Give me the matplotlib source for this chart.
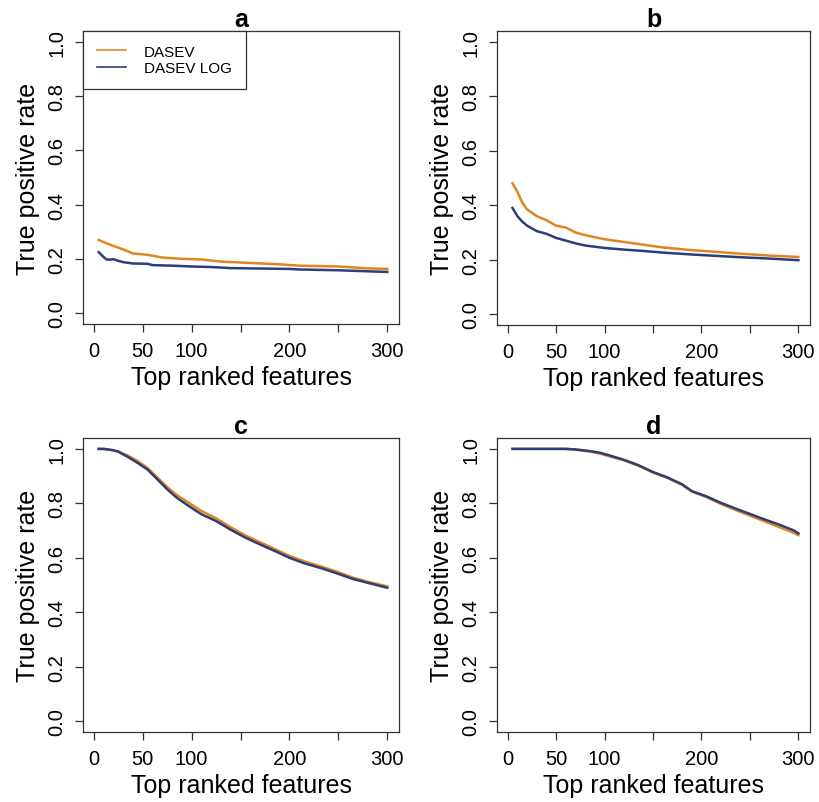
import matplotlib
matplotlib.use("Agg")
import matplotlib.pyplot as plt
import numpy as np

plt.rcParams['font.family'] = ['Liberation Sans', 'DejaVu Sans']

# values, x = number of top ranked features
a_x_dasev = [5, 10, 20, 30, 40, 55, 70, 90, 110, 130, 160, 190, 210, 250, 280, 300]
a_dasev = [0.27, 0.262, 0.248, 0.235, 0.22, 0.215, 0.205, 0.2, 0.198, 0.19, 0.185, 0.18, 0.175, 0.172, 0.165, 0.163]
a_x_log = [5, 10, 13, 17, 20, 25, 30, 40, 55, 60, 80, 100, 120, 140, 200, 210, 250, 290, 300]
a_log = [0.225, 0.207, 0.198, 0.197, 0.199, 0.193, 0.188, 0.183, 0.182, 0.177, 0.175, 0.172, 0.17, 0.166, 0.163, 0.161, 0.158, 0.153, 0.152]

b_x = [5, 10, 15, 20, 30, 40, 50, 60, 70, 80, 100, 120, 140, 160, 190, 210, 240, 270, 300]
b_dasev = [0.48, 0.45, 0.41, 0.385, 0.36, 0.345, 0.325, 0.318, 0.3, 0.29, 0.275, 0.265, 0.255, 0.245, 0.235, 0.23, 0.222, 0.215, 0.21]
b_log = [0.39, 0.36, 0.34, 0.325, 0.305, 0.295, 0.28, 0.27, 0.26, 0.252, 0.243, 0.237, 0.232, 0.226, 0.219, 0.215, 0.209, 0.204, 0.198]

c_x = [5, 10, 20, 25, 35, 45, 55, 65, 75, 85, 98, 110, 125, 140, 155, 170, 185, 200, 215, 235, 250, 265, 280, 300]
c_dasev = [1.0, 1.0, 0.995, 0.99, 0.975, 0.955, 0.93, 0.895, 0.86, 0.83, 0.8, 0.772, 0.745, 0.712, 0.682, 0.657, 0.632, 0.607, 0.587, 0.565, 0.547, 0.527, 0.512, 0.495]
c_log = [1.0, 1.0, 0.995, 0.99, 0.97, 0.948, 0.924, 0.888, 0.852, 0.82, 0.788, 0.76, 0.735, 0.703, 0.674, 0.649, 0.625, 0.6, 0.58, 0.559, 0.541, 0.522, 0.508, 0.49]

d_x = [5, 30, 60, 70, 85, 95, 105, 120, 135, 150, 165, 180, 190, 205, 220, 235, 250, 265, 280, 295, 300]
d_dasev = [1.0, 1.0, 1.0, 0.997, 0.99, 0.983, 0.973, 0.958, 0.938, 0.913, 0.893, 0.868, 0.843, 0.823, 0.798, 0.776, 0.755, 0.734, 0.713, 0.692, 0.683]
d_log = [1.0, 1.0, 1.0, 0.998, 0.992, 0.986, 0.976, 0.96, 0.94, 0.915, 0.895, 0.87, 0.845, 0.826, 0.802, 0.781, 0.761, 0.741, 0.722, 0.701, 0.69]

panels = ["a", "b", "c", "d"]
x_ticks = [0, 50, 100, 150, 200, 250, 300]
x_tick_labels = ["0", "50", "100", "", "200", "", "300"]
y_ticks = [0.0, 0.2, 0.4, 0.6, 0.8, 1.0]
y_tick_labels = ["0.0", "0.2", "0.4", "0.6", "0.8", "1.0"]
series_names = ["DASEV", "DASEV LOG"]

orange = "#E0851F"
blue = "#2C3E7A"
W, H = 819, 803

fig = plt.figure(figsize=(W / 100, H / 100), dpi=100)

# axes boxes in pixels: left, top, right, bottom
boxes = [(83, 32, 399, 325), (497, 32, 810, 326), (83, 439, 399, 733), (497, 439, 810, 733)]
data = [
    (a_x_dasev, a_dasev, a_x_log, a_log),
    (b_x, b_dasev, b_x, b_log),
    (c_x, c_dasev, c_x, c_log),
    (d_x, d_dasev, d_x, d_log),
]

for name, (l, t, r, b), (x1, y1, x2, y2) in zip(panels, boxes, data):
    ax = fig.add_axes([l / W, 1 - b / H, (r - l) / W, (b - t) / H])
    ax.plot(x1, y1, color=orange, lw=1.8, label=series_names[0])
    ax.plot(x2, y2, color=blue, lw=1.8, label=series_names[1])
    ax.set_xlim(-11, 312)
    ax.set_ylim(-0.04, 1.04)
    ax.set_xticks(x_ticks)
    ax.set_xticklabels(x_tick_labels, fontsize=14.5)
    ax.set_yticks(y_ticks)
    ax.set_yticklabels(y_tick_labels, fontsize=14.5, rotation=90, va="center")
    ax.tick_params(length=6, width=0.9, color="#333333", pad=6)
    for s in ax.spines.values():
        s.set_color("#333333")
        s.set_linewidth(0.9)
    ax.set_xlabel("Top ranked features", fontsize=18, labelpad=4)
    ax.set_ylabel("True positive rate", fontsize=18, labelpad=5)
    ax.set_title(name, fontsize=18, fontweight="bold", pad=1)
    if name == "a":
        leg = ax.legend(loc="upper left", bbox_to_anchor=(0, 1), borderaxespad=0, fontsize=11,
                        fancybox=False, framealpha=1, edgecolor="#333333", handlelength=1.9,
                        borderpad=0.9, labelspacing=0.15, handletextpad=1.2)
        leg.get_frame().set_linewidth(0.9)
        for h in leg.get_lines():
            h.set_linewidth(1.2)

fig.savefig("out.png", dpi=100)
